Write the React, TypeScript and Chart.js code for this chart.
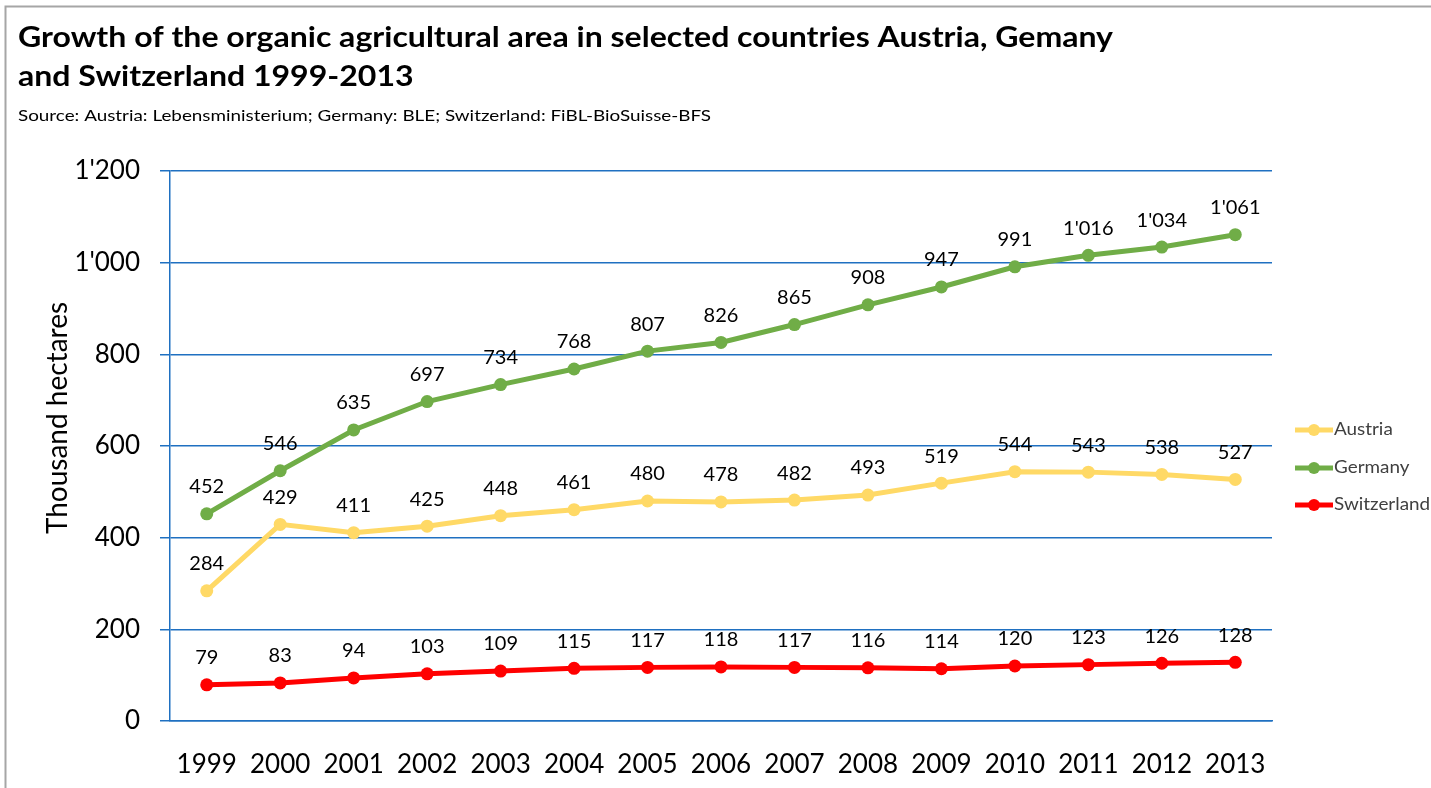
import React, { useEffect, useRef } from "react";
import { Chart, registerables } from "chart.js";

Chart.register(...registerables);

const years = ["1999", "2000", "2001", "2002", "2003", "2004", "2005", "2006", "2007", "2008", "2009", "2010", "2011", "2012", "2013"];
const austria = [284, 429, 411, 425, 448, 461, 480, 478, 482, 493, 519, 544, 543, 538, 527];
const germany = [452, 546, 635, 697, 734, 768, 807, 826, 865, 908, 947, 991, 1016, 1034, 1061];
const switzerland = [79, 83, 94, 103, 109, 115, 117, 118, 117, 116, 114, 120, 123, 126, 128];
const seriesNames = ["Austria", "Germany", "Switzerland"];
const seriesColors = ["#FFD966", "#70AD47", "#FF0000"];
const titleLines = [
  "Growth of the organic agricultural area in selected countries Austria, Gemany",
  "and Switzerland 1999-2013",
];
const subtitle = "Source: Austria: Lebensministerium; Germany: BLE; Switzerland: FiBL-BioSuisse-BFS";
const yAxisTitle = "Thousand hectares";
const yMin = 0;
const yMax = 1200;
const yStep = 200;

const FONT = "Lato, 'Open Sans', sans-serif";
const BLUE = "#1F70C1";

const fmt = (v: number): string =>
  v >= 1000 ? `${Math.floor(v / 1000)}'${String(v % 1000).padStart(3, "0")}` : String(v);

const stretchText = (ctx: any, text: string, x: number, y: number, sx: number) => {
  ctx.save();
  ctx.translate(x, y);
  ctx.scale(sx, 1);
  ctx.fillText(text, 0, 0);
  ctx.restore();
};

const overlay = {
  id: "overlay",
  afterDatasetsDraw(chart: any) {
    const ctx = chart.ctx;
    ctx.save();
    ctx.font = `20px ${FONT}`;
    ctx.fillStyle = "#000";
    ctx.textAlign = "center";
    ctx.textBaseline = "middle";
    chart.data.datasets.forEach((ds: any, i: number) => {
      const meta = chart.getDatasetMeta(i);
      meta.data.forEach((pt: any, j: number) => {
        ctx.fillText(fmt(ds.data[j]), pt.x, pt.y - 27);
      });
    });
    ctx.restore();
  },
  afterDraw(chart: any) {
    const ctx = chart.ctx;
    ctx.save();
    // frame
    ctx.strokeStyle = "#A6A6A6";
    ctx.lineWidth = 2;
    ctx.beginPath();
    ctx.moveTo(1431, 6.5);
    ctx.lineTo(5.5, 6.5);
    ctx.lineTo(5.5, 788);
    ctx.stroke();
    // title
    ctx.fillStyle = "#000";
    ctx.textAlign = "left";
    ctx.textBaseline = "alphabetic";
    ctx.font = `bold 28px ${FONT}`;
    const w0 = ctx.measureText(titleLines[0]).width;
    const tsx = 1095 / w0;
    stretchText(ctx, titleLines[0], 18, 47, tsx);
    stretchText(ctx, titleLines[1], 18, 86, tsx);
    ctx.font = `16px ${FONT}`;
    const ws = ctx.measureText(subtitle).width;
    stretchText(ctx, subtitle, 18, 121, 693 / ws);
    // y axis title
    ctx.save();
    ctx.translate(58, 418);
    ctx.rotate(-Math.PI / 2);
    ctx.textAlign = "center";
    ctx.textBaseline = "middle";
    ctx.font = `28px ${FONT}`;
    ctx.fillText(yAxisTitle, 0, 0);
    ctx.restore();
    // legend
    const ly = [430, 468, 505];
    seriesNames.forEach((name, i) => {
      ctx.strokeStyle = seriesColors[i];
      ctx.fillStyle = seriesColors[i];
      ctx.lineWidth = 5;
      ctx.beginPath();
      ctx.moveTo(1295, ly[i]);
      ctx.lineTo(1333, ly[i]);
      ctx.stroke();
      ctx.beginPath();
      ctx.arc(1314, ly[i], 6, 0, Math.PI * 2);
      ctx.fill();
      ctx.fillStyle = "#404040";
      ctx.font = `17px ${FONT}`;
      ctx.textAlign = "left";
      ctx.textBaseline = "middle";
      stretchText(ctx, name, 1334, ly[i], 1.11);
    });
    ctx.restore();
  },
};

export default function App() {
  const ref = useRef<HTMLCanvasElement>(null);
  useEffect(() => {
    if (!ref.current) return;
    const mk = (label: string, data: number[], color: string) => ({
      label,
      data,
      borderColor: color,
      backgroundColor: color,
      borderWidth: 5,
      pointRadius: 6.5,
      pointBorderWidth: 0,
      pointBackgroundColor: color,
      tension: 0,
    });
    const chart = new Chart(ref.current, {
      type: "line",
      data: {
        labels: years,
        datasets: [
          mk(seriesNames[0], austria, seriesColors[0]),
          mk(seriesNames[1], germany, seriesColors[1]),
          mk(seriesNames[2], switzerland, seriesColors[2]),
        ],
      },
      options: {
        responsive: false,
        animation: false,
        layout: { padding: { top: 171, right: 159, left: 0, bottom: 0 } },
        plugins: {
          legend: { display: false },
          title: { display: false },
          tooltip: { enabled: false },
        },
        scales: {
          x: {
            type: "category",
            offset: true,
            grid: { display: false, drawTicks: false },
            border: { display: true, color: BLUE, width: 1.5 },
            ticks: { font: { family: FONT, size: 26 }, color: "#000", padding: 28, maxRotation: 0, autoSkip: false },
            afterFit: (s: any) => {
              s.height = 67;
            },
          },
          y: {
            min: yMin,
            max: yMax,
            grid: { color: BLUE, lineWidth: 1.5, tickLength: 10, drawTicks: true },
            border: { display: true, color: BLUE, width: 1.5 },
            ticks: {
              stepSize: yStep,
              font: { family: FONT, size: 26 },
              color: "#000",
              padding: 20,
              callback: (v: any) => fmt(Number(v)),
            },
            afterFit: (s: any) => {
              s.width = 170;
            },
          },
        },
      },
      plugins: [overlay],
    });
    return () => chart.destroy();
  }, []);
  return (
    <div style={{ position: "fixed", left: 0, top: 0, width: 1431, height: 788, background: "#fff" }}>
      <canvas ref={ref} width={1431} height={788} />
    </div>
  );
}
